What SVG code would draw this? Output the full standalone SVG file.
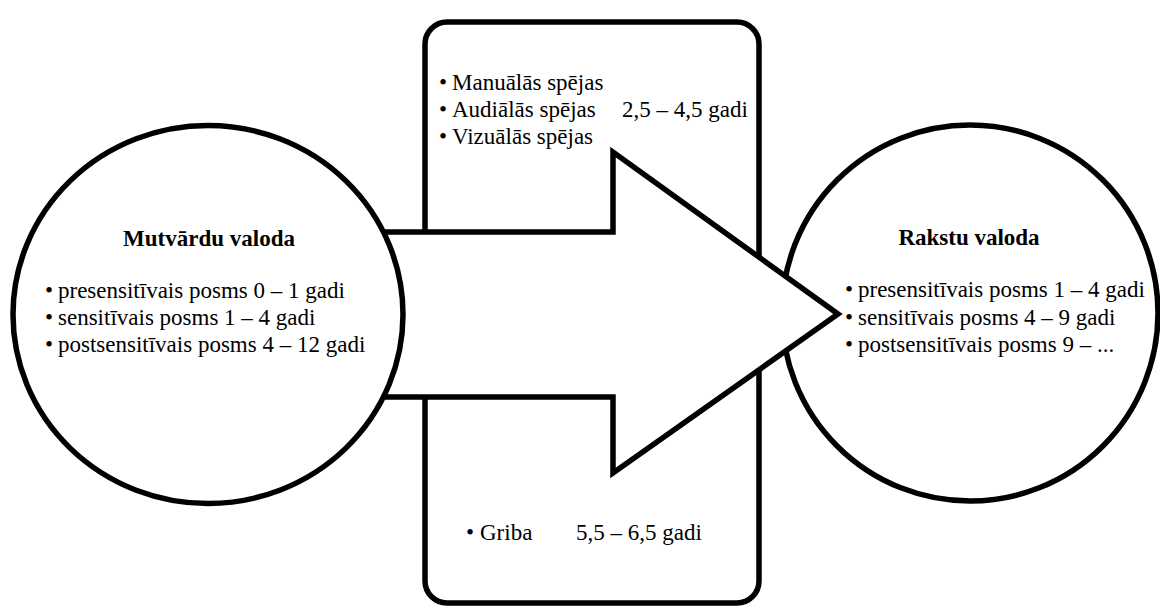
<svg xmlns="http://www.w3.org/2000/svg" width="1160" height="606" viewBox="0 0 1160 606">
  <style>
    .shape { fill: #ffffff; stroke: #000000; stroke-width: 5.5; stroke-linejoin: miter; }
    .txt { font-family: "Liberation Serif", "Times New Roman", serif; font-size: 23px; fill: #000000; }
    .title { font-weight: bold; text-anchor: middle; }
  </style>
  <rect width="1160" height="606" fill="#ffffff"/>

  <!-- Middle panel: abilities and will -->
  <g id="abilities-panel">
    <rect class="shape" x="425" y="22" width="334" height="581" rx="22" ry="22"/>
    <text class="txt" y="90"><tspan x="439">•</tspan><tspan x="452">Manuālās spējas</tspan></text>
    <text class="txt" y="117"><tspan x="439">•</tspan><tspan x="452">Audiālās spējas</tspan><tspan x="622">2,5 – 4,5 gadi</tspan></text>
    <text class="txt" y="144"><tspan x="439">•</tspan><tspan x="452">Vizuālās spējas</tspan></text>
    <text class="txt" y="540"><tspan x="466">•</tspan><tspan x="480">Griba</tspan><tspan x="576">5,5 – 6,5 gadi</tspan></text>
  </g>

  <!-- Written language -->
  <g id="written-language">
    <circle class="shape" cx="970" cy="313" r="188"/>
    <text class="txt title" x="969" y="245">Rakstu valoda</text>
    <text class="txt" y="297"><tspan x="845">•</tspan><tspan x="858">presensitīvais posms 1 – 4 gadi</tspan></text>
    <text class="txt" y="325"><tspan x="845">•</tspan><tspan x="858">sensitīvais posms 4 – 9 gadi</tspan></text>
    <text class="txt" y="352"><tspan x="845">•</tspan><tspan x="858">postsensitīvais posms 9 – ...</tspan></text>
  </g>

  <!-- Transition arrow -->
  <g id="connectors">
    <polygon class="shape" points="300,232 613,232 613,152 838,314 613,473 613,397 300,397"/>
  </g>

  <!-- Spoken language -->
  <g id="spoken-language">
    <ellipse class="shape" cx="208" cy="314.5" rx="195" ry="189"/>
    <text class="txt title" x="209" y="246">Mutvārdu valoda</text>
    <text class="txt" y="298"><tspan x="45">•</tspan><tspan x="58">presensitīvais posms 0 – 1 gadi</tspan></text>
    <text class="txt" y="325"><tspan x="45">•</tspan><tspan x="58">sensitīvais posms 1 – 4 gadi</tspan></text>
    <text class="txt" y="352"><tspan x="45">•</tspan><tspan x="58">postsensitīvais posms 4 – 12 gadi</tspan></text>
  </g>
</svg>
